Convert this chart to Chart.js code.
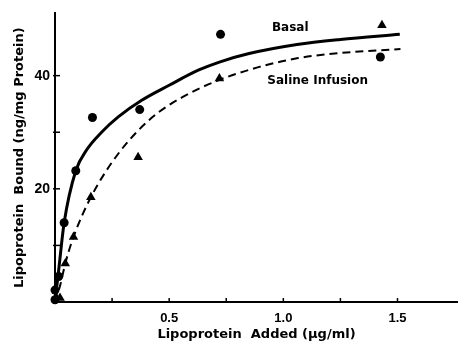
<!DOCTYPE html>
<html>
<head>
    <title>Lipoprotein Bound</title>
    <style>
        body { margin: 0; background: white; }
        #wrap { width: 458px; height: 350px; }
    </style>
</head>
<body>
    <div id="wrap"><canvas id="chart" width="458" height="350"></canvas></div>

    <script src="https://cdn.jsdelivr.net/npm/chart.js@4"></script>
    <script>
    // measured points (µg/ml, ng/mg protein)
    const basalX = [0, 0, 0.016, 0.04, 0.091, 0.164, 0.371, 0.725, 1.425];
    const basalY = [0.4, 2.1, 4.5, 14.0, 23.2, 32.6, 34.0, 47.3, 43.3];
    const salineX = [0.022, 0.045, 0.081, 0.157, 0.364, 0.72, 1.432];
    const salineY = [0.7, 6.8, 11.5, 18.5, 25.6, 39.5, 48.9];

    // fitted curves
    const basalCurveX = [0, 0.016, 0.04, 0.091, 0.139, 0.204, 0.277, 0.378, 0.5, 0.63, 0.72, 0.85, 1.06, 1.25, 1.51];
    const basalCurveY = [0, 5.6, 14.0, 23.2, 26.9, 30.0, 32.7, 35.6, 38.3, 41.0, 42.4, 43.9, 45.5, 46.4, 47.3];
    const salineCurveX = [0, 0.023, 0.045, 0.081, 0.157, 0.277, 0.422, 0.558, 0.717, 0.891, 1.065, 1.25, 1.513];
    const salineCurveY = [0, 3.0, 6.8, 11.5, 18.5, 26.2, 32.5, 36.2, 39.2, 41.5, 43.1, 44.0, 44.7];

    const xLabelValues = [0.5, 1.0, 1.5];
    const yLabelValues = [20, 40];

    const noteTexts = ['Basal', 'Saline Infusion'];
    const noteX = [0.95, 0.93];
    const noteY = [48.5, 39.0];

    const toXY = (xs, ys) => xs.map((x, i) => ({ x: x, y: ys[i] }));
    const FONT = '"Liberation Sans", Arial, sans-serif';
    const WIDE = '"DejaVu Sans", sans-serif';

    // ticks pointing into the plot, plus the curve labels
    const extras = {
        id: 'extras',
        afterDraw(chart) {
            const ctx = chart.ctx;
            const xs = chart.scales.x, ys = chart.scales.y;
            ctx.save();
            ctx.strokeStyle = '#000';
            ctx.lineWidth = 1.5;
            xs.ticks.forEach(t => {
                if (t.value <= 0) return;
                const px = xs.getPixelForValue(t.value);
                ctx.beginPath();
                ctx.moveTo(px, ys.bottom);
                ctx.lineTo(px, ys.bottom - 4);
                ctx.stroke();
            });
            ys.ticks.forEach(t => {
                if (t.value <= 0) return;
                const py = ys.getPixelForValue(t.value);
                ctx.beginPath();
                ctx.moveTo(xs.left - 2, py);
                ctx.lineTo(xs.left + 5, py);
                ctx.stroke();
            });
            ctx.fillStyle = '#000';
            ctx.font = 'bold 12px ' + WIDE;
            ctx.textBaseline = 'middle';
            ctx.textAlign = 'left';
            noteTexts.forEach((s, i) => {
                ctx.fillText(s, xs.getPixelForValue(noteX[i]), ys.getPixelForValue(noteY[i]));
            });
            ctx.restore();
        }
    };

    new Chart(document.getElementById('chart').getContext('2d'), {
        type: 'scatter',
        data: {
            datasets: [
                { data: toXY(basalCurveX, basalCurveY), showLine: true, borderColor: '#000', borderWidth: 3,
                  pointRadius: 0, cubicInterpolationMode: 'monotone', clip: false },
                { data: toXY(salineCurveX, salineCurveY), showLine: true, borderColor: '#000', borderWidth: 2,
                  borderDash: [8, 5], pointRadius: 0, cubicInterpolationMode: 'monotone', clip: false },
                { data: toXY(basalX, basalY), pointStyle: 'circle', pointRadius: 4.5,
                  backgroundColor: '#000', borderColor: '#000', borderWidth: 0, clip: false },
                { data: toXY(salineX, salineY), pointStyle: 'triangle', pointRadius: 5.5,
                  backgroundColor: '#000', borderColor: '#000', borderWidth: 0, clip: false }
            ]
        },
        options: {
            responsive: false,
            animation: false,
            layout: { autoPadding: false, padding: { top: 13, right: 0, left: 0, bottom: 0 } },
            plugins: { legend: { display: false }, tooltip: { enabled: false } },
            scales: {
                x: {
                    type: 'linear', min: 0, max: 1.765,
                    afterFit: s => { s.height = 48; s.paddingRight = 0; s.paddingLeft = 0; },
                    afterBuildTicks: s => { s.ticks = s.ticks.filter(t => Math.abs(t.value / 0.25 - Math.round(t.value / 0.25)) < 1e-6); },
                    grid: { display: false, drawTicks: false },
                    border: { display: true, color: '#000', width: 2 },
                    ticks: {
                        stepSize: 0.25, padding: 9, color: '#000', maxRotation: 0, autoSkip: false,
                        font: { family: FONT, size: 13, weight: 'bold' },
                        callback: v => xLabelValues.some(l => Math.abs(l - v) < 1e-6) ? v.toFixed(1) : ''
                    },
                    title: {
                        display: true, text: 'Lipoprotein  Added (µg/ml)', color: '#000',
                        font: { family: WIDE, size: 13, weight: 'bold' },
                        padding: { top: 0, bottom: 8 }
                    }
                },
                y: {
                    type: 'linear', min: 0, max: 51,
                    afterFit: s => { s.width = 55; },
                    afterBuildTicks: s => { s.ticks = s.ticks.filter(t => t.value % 10 === 0); },
                    grid: { display: false, drawTicks: false },
                    border: { display: true, color: '#000', width: 2 },
                    ticks: {
                        stepSize: 10, padding: 5, color: '#000', autoSkip: false,
                        font: { family: FONT, size: 14, weight: 'bold' },
                        callback: v => yLabelValues.includes(v) ? String(v) : ''
                    },
                    title: {
                        display: true, text: 'Lipoprotein  Bound (ng/mg Protein)', color: '#000',
                        font: { family: WIDE, size: 13, weight: 'bold' },
                        padding: { top: 12, bottom: 0 }
                    }
                }
            }
        },
        plugins: [extras]
    });
    </script>
</body>
</html>
